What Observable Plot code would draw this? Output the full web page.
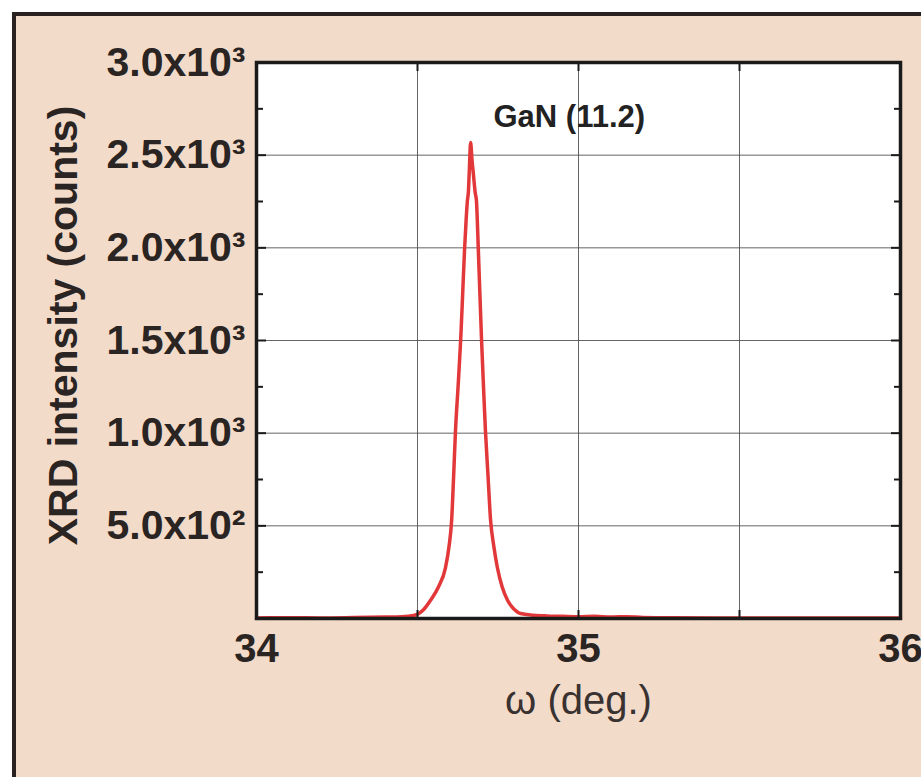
<!DOCTYPE html>
<html><head><meta charset="utf-8">
<script src="https://cdn.jsdelivr.net/npm/d3@7"></script>
<script src="https://cdn.jsdelivr.net/npm/@observablehq/plot@0.6"></script>
<style>
html,body{margin:0;padding:0;background:#fff;}
#wrap{position:relative;width:921px;height:777px;overflow:hidden;}
#panel{position:absolute;left:12px;top:12px;right:0;bottom:0;background:#f3dbca;border-left:4px solid #2a2220;border-top:4px solid #2a2220;}
#chart{position:absolute;left:0;top:0;}
</style></head><body>
<div id="wrap"><div id="panel"></div><div id="chart"></div></div>
<script>
// ω (deg.) sample positions and XRD counts
const omega = [34.00, 34.10, 34.20, 34.30, 34.40, 34.45, 34.488, 34.52, 34.540, 34.565, 34.587, 34.598, 34.606, 34.612, 34.618, 34.626, 34.634, 34.640, 34.646, 34.651, 34.655, 34.658, 34.661, 34.665, 34.669, 34.674, 34.679, 34.683, 34.689, 34.694, 34.699, 34.705, 34.711, 34.719, 34.727, 34.737, 34.748, 34.763, 34.780, 34.800, 34.820, 34.86, 34.90, 34.95, 35.00, 35.05, 35.10, 35.15, 35.20, 35.30, 35.50, 35.75, 36.00];
const counts = [3, 4, 3, 5, 8, 10, 16, 50, 97, 170, 275, 390, 529, 760, 1014, 1250, 1500, 1740, 1986, 2150, 2255, 2300, 2420, 2568, 2480, 2390, 2300, 2255, 1986, 1740, 1500, 1250, 1014, 770, 529, 390, 275, 170, 97, 50, 27, 18, 14, 12, 10, 12, 8, 10, 6, 4, 3, 3, 3];

const yMajorTicks = [500, 1000, 1500, 2000, 2500, 3000];
const yTickLabels = ["5.0x10²", "1.0x10³", "1.5x10³", "2.0x10³", "2.5x10³", "3.0x10³"];
const yMinorTicks = [250, 750, 1250, 1750, 2250, 2750];
const yGridTicks = [500, 1000, 1500, 2000, 2500];
const xLabelTicks = [34, 35, 36];
const xGridTicks = [34.5, 35, 35.5];
const xTitle = "ω (deg.)";
const yTitle = "XRD intensity (counts)";
const annotationText = ["GaN (11.2)"];
const annotationOmega = [34.736];
const annotationCounts = [2705];

const data = omega.map((w, i) => ({omega: w, counts: counts[i]}));
const annotations = annotationText.map((t, i) => ({t, x: annotationOmega[i], y: annotationCounts[i]}));
const labelOf = new Map(yMajorTicks.map((v, i) => [v, yTickLabels[i]]));
const ff = '"Liberation Sans", Arial, Helvetica, sans-serif';
const ink = "#2a2422";

const chart = Plot.plot({
  width: 921, height: 777,
  marginLeft: 256, marginRight: 21, marginTop: 62, marginBottom: 159,
  style: {background: "transparent", fontFamily: ff, color: ink},
  x: {domain: [34, 36]},
  y: {domain: [0, 3000]},
  marks: [
    Plot.frame({fill: "white", stroke: null}),
    Plot.gridX(xGridTicks, {stroke: "#4a4a4a", strokeOpacity: 0.85, strokeWidth: 1}),
    Plot.gridY(yGridTicks, {stroke: "#4a4a4a", strokeOpacity: 0.85, strokeWidth: 1}),
    Plot.line(data, {x: "omega", y: "counts", stroke: "#e2383a", strokeWidth: 3.5, curve: "monotone-x"}),
    // inward tick marks
    Plot.axisY(yMajorTicks, {anchor: "left", tickSize: -10, tickFormat: () => "", label: null, stroke: "#1a1a1a", strokeWidth: 2}),
    Plot.axisY(yMinorTicks, {anchor: "left", tickSize: -7, tickFormat: () => "", label: null, stroke: "#1a1a1a", strokeWidth: 2}),
    Plot.axisY(yMajorTicks, {anchor: "right", tickSize: -10, tickFormat: () => "", label: null, stroke: "#1a1a1a", strokeWidth: 2}),
    Plot.axisY(yMinorTicks, {anchor: "right", tickSize: -7, tickFormat: () => "", label: null, stroke: "#1a1a1a", strokeWidth: 2}),
    Plot.axisX(xGridTicks, {anchor: "bottom", tickSize: -8, tickFormat: () => "", label: null, stroke: "#1a1a1a", strokeWidth: 2}),
    Plot.axisX(xGridTicks, {anchor: "top", tickSize: -8, tickFormat: () => "", label: null, stroke: "#1a1a1a", strokeWidth: 2}),
    // tick labels
    Plot.axisY(yMajorTicks, {anchor: "left", tickSize: 0, tickPadding: 11, tickFormat: d => labelOf.get(d), label: null, fontSize: 41, fontWeight: "bold", fill: ink}),
    Plot.axisX(xLabelTicks, {anchor: "bottom", tickSize: 0, tickPadding: 15, tickFormat: d => String(d), label: null, fontSize: 40, fontWeight: "bold", fill: ink}),
    Plot.frame({stroke: "#1a1a1a", strokeWidth: 3.5}),
    Plot.text([xTitle], {frameAnchor: "bottom", dy: 95, fontSize: 40, fill: "#3a3230", text: d => d}),
    Plot.text([yTitle], {frameAnchor: "left", textAnchor: "middle", rotate: -90, dx: -193, dy: -15, fontSize: 41, fontWeight: "bold", fill: ink, text: d => d}),
    Plot.text(annotations, {x: "x", y: "y", text: "t", textAnchor: "start", fontSize: 31, fontWeight: "bold", fill: "#222"})
  ]
});
document.getElementById("chart").appendChild(chart);
</script>
</body></html>
